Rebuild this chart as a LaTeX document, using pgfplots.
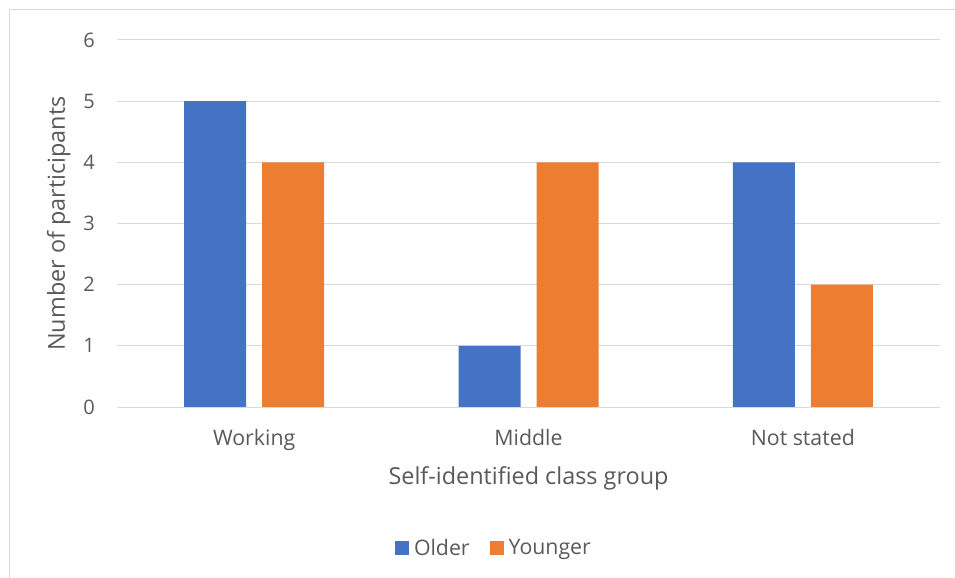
\documentclass[border=0pt]{standalone}
\usepackage{fontspec}
\setmainfont{Open Sans}
\usepackage{pgfplots}
\pgfplotsset{compat=1.18}
\definecolor{older}{HTML}{4472C4}
\definecolor{younger}{HTML}{ED7D31}
\definecolor{gridc}{HTML}{D9D9D9}
\definecolor{textc}{HTML}{595959}
\begin{document}
\begin{tikzpicture}
\path[use as bounding box] (0,0) rectangle (955bp,578bp);
\draw[gridc, line width=1bp] (9.5bp,0) -- (9.5bp,568bp) -- (955bp,568bp);
\begin{axis}[
  at={(117bp,171bp)}, anchor=south west,
  scale only axis, width=823bp, height=367bp,
  ybar=16bp, bar width=62bp,
  xmin=-0.5, xmax=2.5, ymin=0, ymax=6,
  xtick={0,1,2}, xticklabels={Working,Middle,Not stated},
  ytick={0,1,2,3,4,5,6},
  axis line style={draw=none},
  major tick length=0pt,
  ymajorgrids, major grid style={gridc, line width=1bp},
  /pgf/number format/assume math mode=true,
  tick label style={text=textc, inner sep=0pt},
  yticklabel style={font=\fontsize{20bp}{24bp}\selectfont, anchor=east, xshift=-22bp},
  xticklabel style={font=\fontsize{21.3bp}{25bp}\selectfont, anchor=base, yshift=-38bp},
  xlabel={Self-identified class group},
  ylabel={Number of participants},
  label style={font=\fontsize{23.4bp}{28bp}\selectfont, text=textc, inner sep=0pt},
  xlabel style={at={(axis description cs:0.5,-0.2125)}, anchor=base},
  ylabel style={at={(axis description cs:-0.0632,0.5)}, anchor=base, rotate=0},
  legend columns=2,
  legend style={at={(axis description cs:0.458,-0.384)}, anchor=center, draw=none, fill=none,
    font=\fontsize{21.3bp}{25bp}\selectfont, text=textc,
    /tikz/every even column/.append style={column sep=18bp}},
  legend image code/.code={\fill[#1] (0bp,-7bp) rectangle (14bp,7bp); \path (17bp,0bp);},
]
\addplot[fill=older, draw=none] coordinates {(0,5) (1,1) (2,4)};
\addlegendentry{Older}
\addplot[fill=younger, draw=none] coordinates {(0,4) (1,4) (2,2)};
\addlegendentry{Younger}
\end{axis}
\end{tikzpicture}
\end{document}
